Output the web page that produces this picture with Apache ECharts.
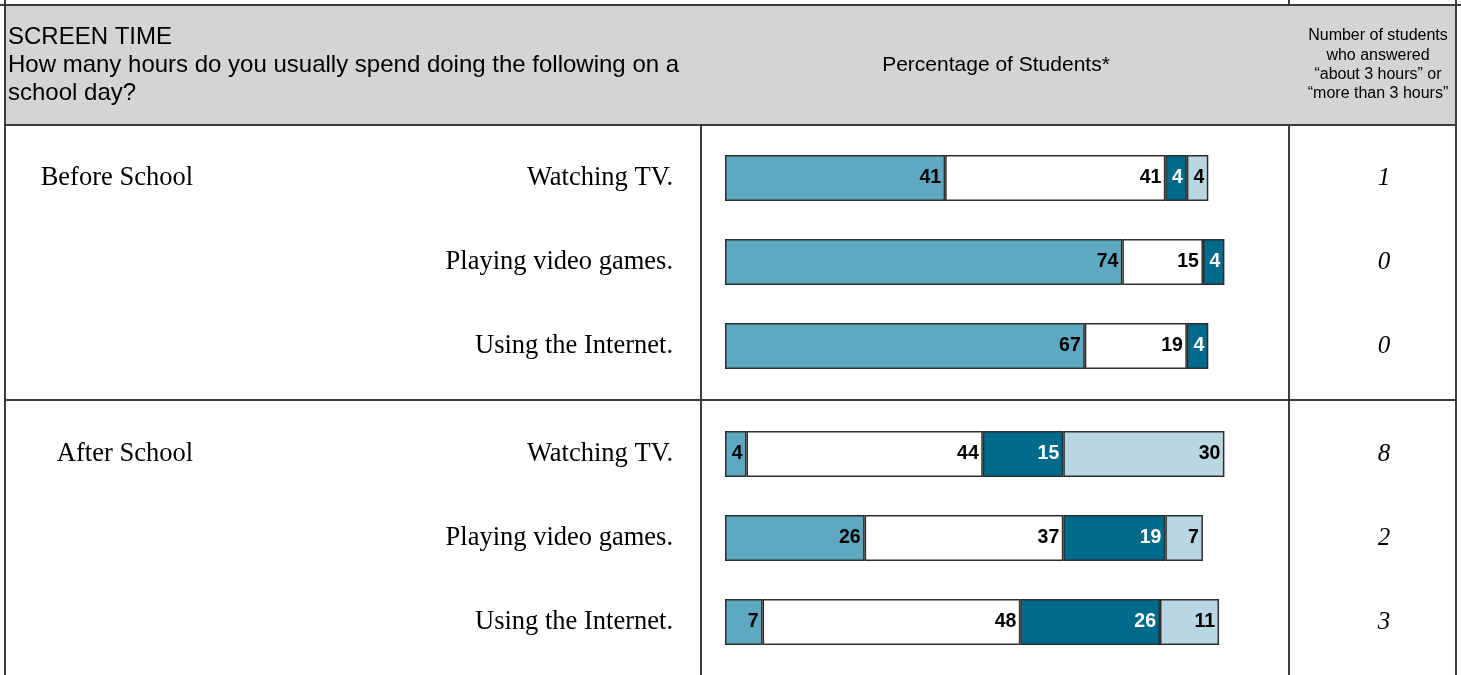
<!DOCTYPE html>
<html>
<head>
<meta charset="utf-8">
<script src="https://cdn.jsdelivr.net/npm/echarts@6/dist/echarts.min.js"></script>
<style>
html,body{margin:0;padding:0;background:#fff;}
#chart{width:1461px;height:675px;}
</style>
</head>
<body>
<div id="chart"></div>
<script>
// ---- data ----
var activities = ['Watching TV.', 'Playing video games.', 'Using the Internet.'];
var periods = ['Before School', 'After School'];
var seriesNames = ['None', 'Less than 1 hour', 'About 1 or 2 hours', 'About 3 or more hours'];
// values per period: [series][activity]
var beforeNone   = [41, 74, 67];
var beforeLess1  = [41, 15, 19];
var beforeOneTwo = [4, 4, 4];
var beforeThree  = [4, 0, 0];
var afterNone    = [4, 26, 7];
var afterLess1   = [44, 37, 48];
var afterOneTwo  = [15, 19, 26];
var afterThree   = [30, 7, 11];
var beforeCounts = ['1', '0', '0'];
var afterCounts  = ['8', '2', '3'];

var headerTitle = 'SCREEN TIME';
var headerQuestion = ['How many hours do you usually spend doing the following on a', 'school day?'];
var headerMiddle = 'Percentage of Students*';
var headerRight = ['Number of students', 'who answered', '\u201Cabout 3 hours\u201D or', '\u201Cmore than 3 hours\u201D'];

// ---- styling ----
var colors = ['#5ea9c1', '#ffffff', '#006a8a', '#b9d7e2'];
var labelColors = ['#000', '#000', '#fff', '#000'];
var sans = '"Liberation Sans", Arial, sans-serif';
var serif = '"Liberation Serif", "Times New Roman", serif';
var lineColor = '#3c3c3c';

var chart = echarts.init(document.getElementById('chart'), null, {renderer: 'canvas'});

var grids = [
  {left: 725, width: 537, top: 136, height: 252},
  {left: 725, width: 537, top: 412, height: 252}
];

var xAxes = [0, 1].map(function (i) {
  return {gridIndex: i, type: 'value', min: 0, max: 100, show: false};
});

var yAxes = [];
var countSets = [beforeCounts, afterCounts];
[0, 1].forEach(function (i) {
  yAxes.push({
    gridIndex: i, type: 'category', data: activities, inverse: true,
    axisLine: {show: false}, axisTick: {show: false}, splitLine: {show: false},
    axisLabel: {margin: 52, fontFamily: serif, fontSize: 26.5, color: '#000'}
  });
  yAxes.push({
    gridIndex: i, type: 'category', data: countSets[i], inverse: true, position: 'right',
    axisLine: {show: false}, axisTick: {show: false}, splitLine: {show: false},
    axisLabel: {margin: 122, align: 'center', fontFamily: serif, fontStyle: 'italic', fontSize: 25, color: '#000'}
  });
});

var dataSets = [
  [beforeNone, beforeLess1, beforeOneTwo, beforeThree],
  [afterNone, afterLess1, afterOneTwo, afterThree]
];

var series = [];
[0, 1].forEach(function (g) {
  dataSets[g].forEach(function (vals, s) {
    series.push({
      name: seriesNames[s],
      type: 'bar',
      stack: 'p' + g,
      xAxisIndex: g,
      yAxisIndex: g * 2,
      barWidth: 46,
      data: vals.map(function (v) { return v === 0 ? '-' : v; }),
      itemStyle: {color: colors[s], borderColor: '#2e2e2e', borderWidth: 1.5},
      label: {
        show: true, position: 'insideRight', distance: 4,
        fontFamily: sans, fontWeight: 'bold', fontSize: 19.5, color: labelColors[s],
        formatter: function (p) { return p.value ? String(p.value) : ''; }
      },
      emphasis: {disabled: true},
      silent: true
    });
  });
});

function line(x1, y1, x2, y2) {
  return {type: 'line', shape: {x1: x1, y1: y1, x2: x2, y2: y2},
    style: {stroke: lineColor, lineWidth: 2}, z: 10};
}

var graphics = [
  {type: 'rect', shape: {x: 5, y: 5, width: 1451, height: 120}, style: {fill: '#d4d4d4'}, z: 1},
  line(0, 5, 1461, 5),
  line(5, 125, 1456, 125),
  line(5, 400, 1456, 400),
  line(5, 0, 5, 675),
  line(1456, 0, 1456, 675),
  line(701, 125, 701, 675),
  line(1289, 125, 1289, 675),
  line(1289, 0, 1289, 5),
  {type: 'text', x: 8, y: 37, z: 11, style: {text: headerTitle, font: '24px ' + sans, fill: '#000', textVerticalAlign: 'middle'}},
  {type: 'text', x: 8, y: 65, z: 11, style: {text: headerQuestion[0], font: '24px ' + sans, fill: '#000', textVerticalAlign: 'middle'}},
  {type: 'text', x: 8, y: 93, z: 11, style: {text: headerQuestion[1], font: '24px ' + sans, fill: '#000', textVerticalAlign: 'middle'}},
  {type: 'text', x: 996, y: 65, z: 11, style: {text: headerMiddle, font: '21px ' + sans, fill: '#000', textAlign: 'center', textVerticalAlign: 'middle'}},
  {type: 'text', x: 1378, y: 65, z: 11, style: {text: headerRight.join('\n'), font: '16px ' + sans, lineHeight: 19.3, fill: '#000', textAlign: 'center', textVerticalAlign: 'middle'}},
  {type: 'text', x: 193, y: 178, z: 11, style: {text: periods[0], font: '26.5px ' + serif, fill: '#000', textAlign: 'right', textVerticalAlign: 'middle'}},
  {type: 'text', x: 193, y: 454, z: 11, style: {text: periods[1], font: '26.5px ' + serif, fill: '#000', textAlign: 'right', textVerticalAlign: 'middle'}}
];

chart.setOption({
  animation: false,
  backgroundColor: '#ffffff',
  grid: grids,
  xAxis: xAxes,
  yAxis: yAxes,
  series: series,
  graphic: graphics
});
</script>
</body>
</html>
